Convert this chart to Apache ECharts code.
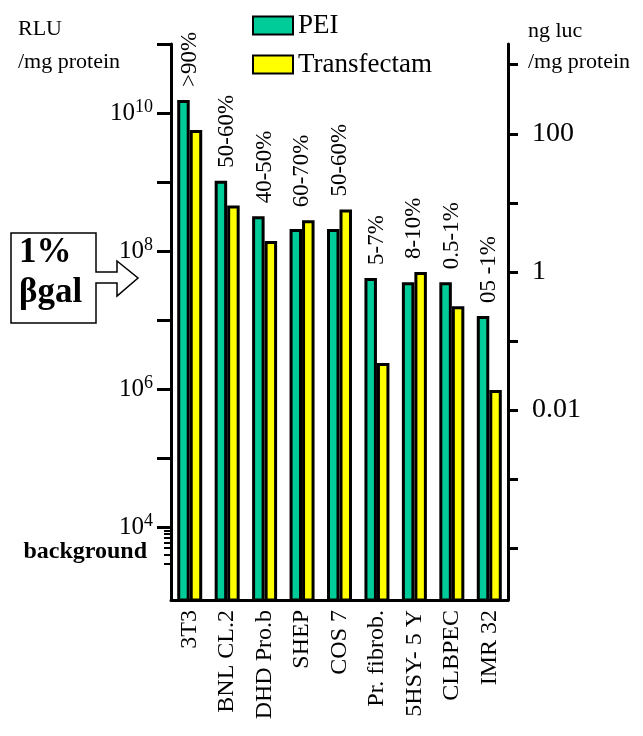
<!DOCTYPE html>
<html>
<head>
<meta charset="utf-8">
<script src="https://cdn.jsdelivr.net/npm/echarts@6/dist/echarts.min.js"></script>
<style>html,body{margin:0;padding:0;background:#fff}#c{width:643px;height:736px}</style>
</head>
<body>
<div id="c"></div>
<script>
// ---- data ----
const categories = ['3T3', 'BNL CL.2', 'DHD Pro.b', 'SHEP', 'COS 7', 'Pr. fibrob.', '5HSY- 5 Y', 'CLBPEC', 'IMR 32'];
const peiValues = [1.55e10, 1.05e9, 3.2e8, 2.1e8, 2.1e8, 4.1e7, 3.55e7, 3.55e7, 1.15e7];
const transfectamValues = [5.7e9, 4.6e8, 1.4e8, 2.8e8, 4.0e8, 2.4e6, 5.0e7, 1.6e7, 9.8e5];
const efficiencyLabels = ['>90%', '50-60%', '40-50%', '60-70%', '50-60%', '5-7%', '8-10%', '0.5-1%', '05 -1%'];
const leftTickValues = [1e4, 1e5, 1e6, 1e7, 1e8, 1e9, 1e10, 1e11];
const leftLabelValues = [1e4, 1e6, 1e8, 1e10];
const leftMinorTickValues = [9000, 8000, 7000, 6000, 5000, 4000, 3000];
const rightTickValues = [1000, 100, 10, 1, 0.1, 0.01, 0.001, 0.0001];
const rightLabelValues = [100, 1, 0.01];
const leftMin = Math.pow(10, 2.949), leftMax = 1e11;
const rightShift = 7.70; // log10 (RLU per ng luc)
const rightMin = Math.pow(10, Math.log10(leftMin) - rightShift);
const rightMax = Math.pow(10, Math.log10(leftMax) - rightShift);

const SERIF = "'Liberation Serif', 'Times New Roman', serif";
const GREEN = '#00cc99', YELLOW = '#ffff00';

const chart = echarts.init(document.getElementById('c'), null, {renderer: 'canvas'});
const topValues = categories.map((c, i) => Math.max(peiValues[i], transfectamValues[i]));

chart.setOption({
  animation: false,
  backgroundColor: '#fff',
  textStyle: {fontFamily: SERIF, color: '#000'},
  grid: {left: 171, right: 135, top: 44, bottom: 136},
  legend: {
    data: ['PEI', 'Transfectam'],
    orient: 'vertical', left: 252, top: 12, padding: 0,
    icon: 'rect',
    itemWidth: 40, itemHeight: 18, itemGap: 12,
    textStyle: {fontFamily: SERIF, fontSize: 27, color: '#000'},
    selectedMode: false
  },
  xAxis: {
    type: 'category', data: categories,
    axisLine: {lineStyle: {color: '#000', width: 3}},
    axisTick: {show: false},
    axisLabel: {rotate: 90, margin: 10, fontFamily: SERIF, fontSize: 24, color: '#000', interval: 0}
  },
  yAxis: [
    {
      type: 'log', min: leftMin, max: leftMax, position: 'left',
      splitLine: {show: false},
      axisLine: {show: true, lineStyle: {color: '#000', width: 3}},
      axisTick: {show: true, inside: false, length: 14, lineStyle: {width: 3, color: '#000'}, customValues: leftTickValues},
      axisLabel: {
        customValues: leftLabelValues, margin: 18,
        formatter: v => '{b|10}{s|' + Math.round(Math.log10(v)) + '}',
        rich: {
          b: {fontFamily: SERIF, fontSize: 25, color: '#000'},
          s: {fontFamily: SERIF, fontSize: 18, color: '#000', padding: [0, 0, 12, 0]}
        }
      }
    },
    {
      type: 'log', min: rightMin, max: rightMax, position: 'right',
      splitLine: {show: false},
      axisLine: {show: true, lineStyle: {color: '#000', width: 3}},
      axisTick: {show: true, inside: false, length: 10, lineStyle: {width: 3, color: '#000'}, customValues: rightTickValues},
      axisLabel: {
        customValues: rightLabelValues, margin: 24,
        fontFamily: SERIF, fontSize: 28, color: '#000',
        formatter: v => String(+Number(v).toPrecision(6))
      }
    },
    {
      type: 'log', min: leftMin, max: leftMax, position: 'left',
      splitLine: {show: false},
      axisLine: {show: false},
      axisTick: {show: true, inside: false, length: 7, lineStyle: {width: 2, color: '#000'}, customValues: leftMinorTickValues},
      axisLabel: {show: false}
    }
  ],
  series: [
    {
      name: 'PEI', type: 'bar', yAxisIndex: 0, data: peiValues,
      barWidth: 12.5, barGap: '0%',
      itemStyle: {color: GREEN, borderColor: '#000', borderWidth: 3}
    },
    {
      name: 'Transfectam', type: 'bar', yAxisIndex: 0, data: transfectamValues,
      barWidth: 12.5, barGap: '0%',
      itemStyle: {color: YELLOW, borderColor: '#000', borderWidth: 3}
    },
    {
      name: 'efficiency', type: 'scatter', yAxisIndex: 0, data: topValues,
      symbolSize: 0, silent: true,
      itemStyle: {opacity: 1, color: '#000'},
      label: {
        show: true, position: 'top', distance: 13, rotate: 90,
        align: 'left', verticalAlign: 'middle', opacity: 1,
        fontFamily: SERIF, fontSize: 23, color: '#000',
        formatter: p => efficiencyLabels[p.dataIndex]
      }
    }
  ],
  graphic: [
    {type: 'text', left: 18, top: 18, style: {text: 'RLU', font: '22px ' + SERIF, fill: '#000'}},
    {type: 'text', left: 18, top: 51, style: {text: '/mg protein', font: '22px ' + SERIF, fill: '#000'}},
    {type: 'text', left: 528, top: 20, style: {text: 'ng luc', font: '22px ' + SERIF, fill: '#000'}},
    {type: 'text', left: 528, top: 51, style: {text: '/mg protein', font: '22px ' + SERIF, fill: '#000'}},
    {type: 'text', right: 496, top: 540, style: {text: 'background', font: 'bold 24px ' + SERIF, fill: '#000'}},
    {
      type: 'polygon',
      shape: {points: [[11, 233], [96, 233], [96, 272], [117, 272], [117, 261], [138, 278], [117, 296], [117, 283], [96, 283], [96, 323], [11, 323]]},
      style: {fill: '#fff', stroke: '#000', lineWidth: 1.5}
    },
    {type: 'text', left: 19, top: 235, style: {text: '1%', font: 'bold 35px ' + SERIF, fill: '#000'}},
    {type: 'text', left: 19, top: 275, style: {text: 'βgal', font: 'bold 35px ' + SERIF, fill: '#000'}}
  ]
});
</script>
</body>
</html>
